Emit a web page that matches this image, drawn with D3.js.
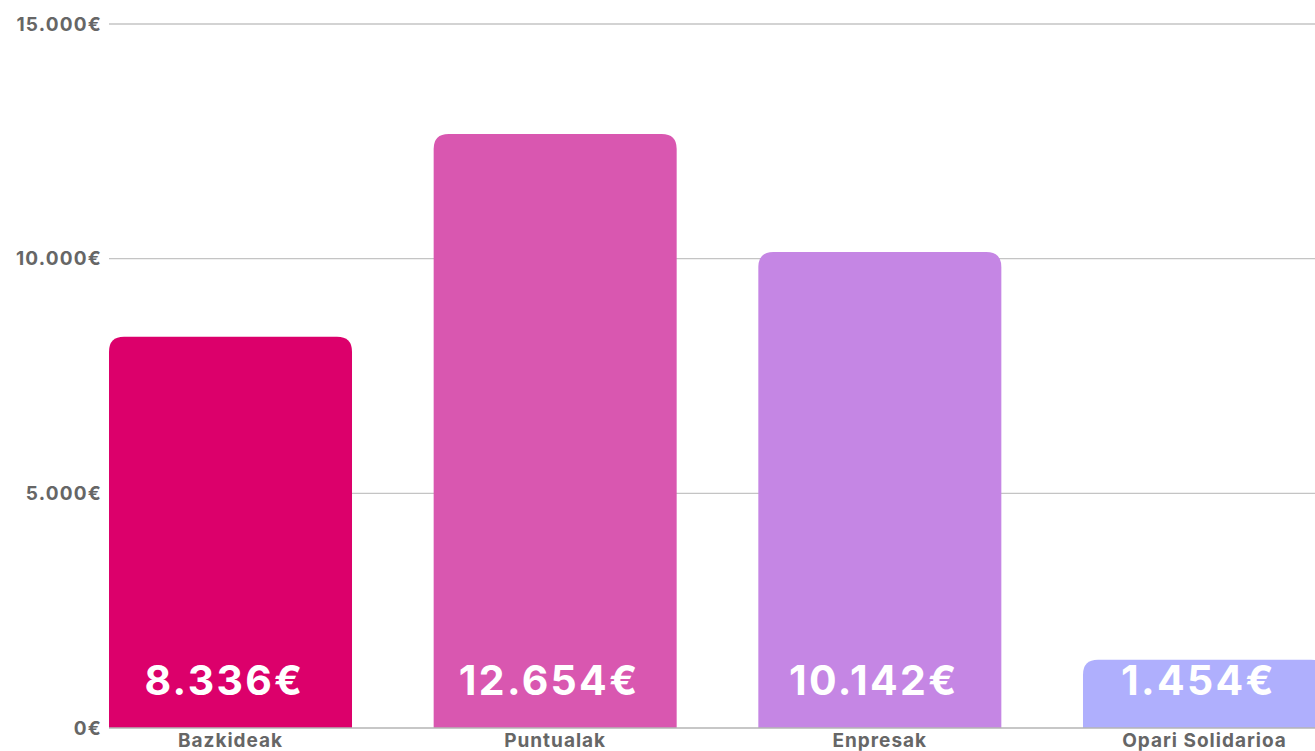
<!DOCTYPE html>
<html>
<head>
<meta charset="utf-8">
<script src="https://cdn.jsdelivr.net/npm/d3@7"></script>
<style>
    body { margin: 0; background: #fff; }
    svg { display: block; font-family: "Inter", "Noto Sans", sans-serif; }
</style>
</head>
<body>
<div id="chart"></div>
<script>
// Chart data
const categories = ["Bazkideak", "Puntualak", "Enpresak", "Opari Solidarioa"];
const amounts = [8336, 12654, 10142, 1454];
const valueLabels = ["8.336€", "12.654€", "10.142€", "1.454€"];
const colors = ["#dc006b", "#d957b0", "#c586e4", "#afaffd"];
const yTicks = [0, 5000, 10000, 15000];
const yTickLabels = ["0€", "5.000€", "10.000€", "15.000€"];

const width = 1315, height = 751;
const margin = {top: 24, left: 109, bottom: 23};

const svg = d3.select("#chart")
    .append("svg")
    .attr("width", width)
    .attr("height", height);

// Scales - last bar runs off the right edge like in the original
const x = d3.scaleBand()
    .domain(categories)
    .range([margin.left, 1326])
    .paddingInner(0.2515)
    .paddingOuter(0);

const y = d3.scaleLinear()
    .domain([0, 15000])
    .range([height - margin.bottom, margin.top]);

// Gridlines
svg.append("g")
    .selectAll("line")
    .data(yTicks.slice(1))
    .join("line")
    .attr("x1", margin.left)
    .attr("x2", width)
    .attr("y1", d => y(d))
    .attr("y2", d => y(d))
    .attr("stroke", "#c4c4c4")
    .attr("stroke-width", 1.3);

// Y tick labels
svg.append("g")
    .selectAll("text")
    .data(yTicks)
    .join("text")
    .attr("x", 102)
    .attr("y", d => y(d))
    .attr("dy", "0.35em")
    .attr("text-anchor", "end")
    .attr("fill", "#666")
    .style("font-size", "19px")
    .style("font-weight", 700)
    .style("letter-spacing", "1.2px")
    .text((d, i) => yTickLabels[i]);

// Bars with rounded top corners
const r = 15;
function barPath(d, i) {
    const x0 = x(categories[i]), w = x.bandwidth();
    const top = y(d), bottom = y(0);
    return `M${x0},${bottom}V${top + r}Q${x0},${top} ${x0 + r},${top}` +
        `H${x0 + w - r}Q${x0 + w},${top} ${x0 + w},${top + r}V${bottom}Z`;
}

svg.append("g")
    .selectAll("path")
    .data(amounts)
    .join("path")
    .attr("d", barPath)
    .attr("fill", (d, i) => colors[i]);

// Baseline
svg.append("line")
    .attr("x1", margin.left)
    .attr("x2", width)
    .attr("y1", y(0))
    .attr("y2", y(0))
    .attr("stroke", "#b5b5b5")
    .attr("stroke-width", 1.5);

// Value labels inside bars
svg.append("g")
    .selectAll("text")
    .data(amounts)
    .join("text")
    .attr("x", (d, i) => x(categories[i]) + x.bandwidth() / 2 - 6)
    .attr("y", y(0) - 33)
    .attr("text-anchor", "middle")
    .attr("fill", "#fff")
    .style("font-size", "41px")
    .style("font-weight", 700)
    .style("letter-spacing", "2.3px")
    .text((d, i) => valueLabels[i]);

// Category labels
svg.append("g")
    .selectAll("text")
    .data(categories)
    .join("text")
    .attr("x", d => x(d) + x.bandwidth() / 2)
    .attr("y", 747)
    .attr("text-anchor", "middle")
    .attr("fill", "#666")
    .style("font-size", "19px")
    .style("font-weight", 700)
    .style("letter-spacing", "1px")
    .text(d => d);
</script>
</body>
</html>
